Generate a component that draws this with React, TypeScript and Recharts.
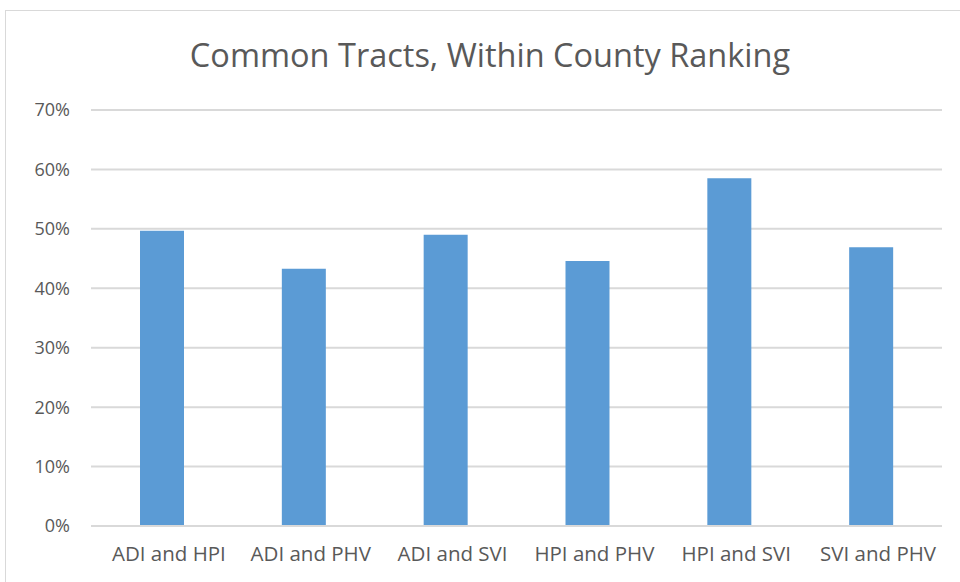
import { BarChart, Bar, XAxis, YAxis, CartesianGrid } from "recharts"

const categories = ["ADI and HPI", "ADI and PHV", "ADI and SVI", "HPI and PHV", "HPI and SVI", "SVI and PHV"]
const shares = [0.497, 0.433, 0.490, 0.446, 0.585, 0.469]
const yTicks = [0, 0.1, 0.2, 0.3, 0.4, 0.5, 0.6, 0.7]

const data = categories.map((name, i) => ({ name, value: shares[i] }))

const FONT = "'Open Sans', Lato, sans-serif"
const TEXT = "#595959"
const GRID = "#d9d9d9"

export default function App() {
  return (
    <div style={{ position: "fixed", left: 0, top: 0, width: 960, height: 582, overflow: "hidden", background: "#fff" }}>
      <div style={{ position: "absolute", left: 5, top: 10, width: 1000, height: 700, border: `1px solid ${GRID}` }} />
      <div
        style={{
          position: "absolute",
          left: 0,
          top: 34,
          width: 980,
          textAlign: "center",
          fontFamily: FONT,
          fontSize: 32.5,
          color: TEXT,
          lineHeight: "42px",
        }}
      >
        Common Tracts, Within County Ranking
      </div>
      <div style={{ position: "absolute", left: 0, top: 0 }}>
        <BarChart width={960} height={582} data={data} margin={{ top: 110, right: 18, bottom: 0, left: 0 }}>
          <CartesianGrid vertical={false} stroke={GRID} strokeWidth={2} />
          <XAxis
            dataKey="name"
            height={56}
            tickLine={false}
            axisLine={{ stroke: GRID, strokeWidth: 2 }}
            tickSize={0}
            tickMargin={20}
            interval={0}
            tick={{ fill: TEXT, fontSize: 20.5, fontFamily: FONT, dx: 7 }}
          />
          <YAxis
            width={91}
            domain={[0, 0.7]}
            ticks={yTicks}
            tickFormatter={(v: number) => `${Math.round(v * 100)}%`}
            axisLine={false}
            tickLine={false}
            tickSize={0}
            tickMargin={21}
            tick={{ fill: TEXT, fontSize: 18, fontFamily: FONT }}
          />
          <Bar dataKey="value" fill="#5b9bd5" barSize={44} isAnimationActive={false} />
        </BarChart>
      </div>
    </div>
  )
}
